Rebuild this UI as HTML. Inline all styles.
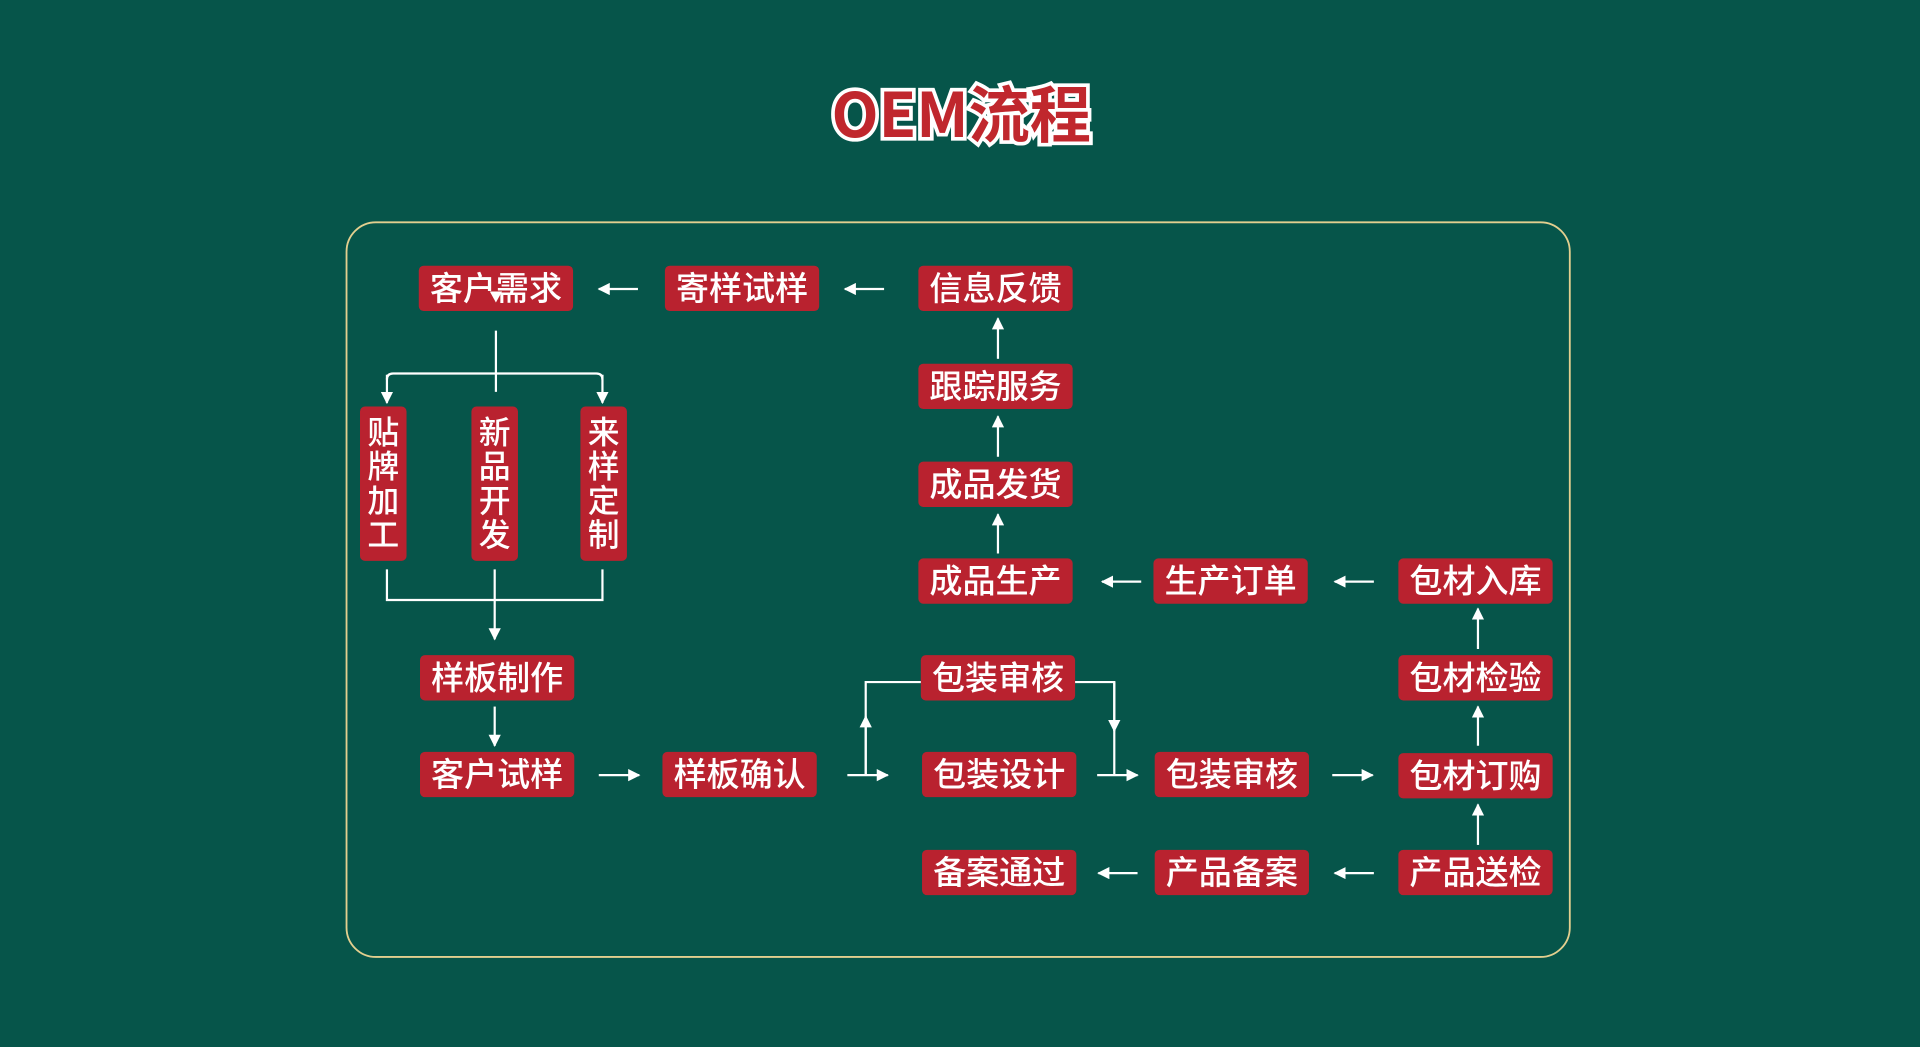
<!DOCTYPE html>
<html><head><meta charset="utf-8"><style>
html,body{margin:0;padding:0;background:#06554a;}
svg{display:block;}
text{font-family:"Noto Sans CJK SC",sans-serif;}
</style></head><body>
<svg width="1920" height="1047" viewBox="0 0 1568 855" xmlns="http://www.w3.org/2000/svg">
<defs>
<marker id="a" viewBox="0 0 10 10" refX="9" refY="5" markerWidth="10" markerHeight="10" markerUnits="userSpaceOnUse" orient="auto"><path d="M0,0 L10,5 L0,10 z" fill="#fff"/></marker>
</defs>
<rect width="1568" height="855" fill="#06554a"/>
<text x="785" y="112" text-anchor="middle" font-size="50" font-weight="bold" fill="#c0272d" stroke="#fff" stroke-width="6" paint-order="stroke">OEM流程</text>
<rect x="283" y="181.5" width="999" height="600" rx="24" fill="none" stroke="#e3cf8f" stroke-width="1.5"/>
<g fill="#b9222f">
<rect x="342" y="217" width="126" height="37" rx="4"/>
<rect x="543" y="217" width="126" height="37" rx="4"/>
<rect x="750" y="217" width="126" height="37" rx="4"/>
<rect x="750" y="297" width="126" height="37" rx="4"/>
<rect x="750" y="377" width="126" height="37" rx="4"/>
<rect x="750" y="456" width="126" height="37" rx="4"/>
<rect x="942" y="456" width="126" height="37" rx="4"/>
<rect x="1142" y="456" width="126" height="37" rx="4"/>
<rect x="1142" y="535" width="126" height="37" rx="4"/>
<rect x="752" y="535" width="126" height="37" rx="4"/>
<rect x="343" y="535" width="126" height="37" rx="4"/>
<rect x="343" y="614" width="126" height="37" rx="4"/>
<rect x="541" y="614" width="126" height="37" rx="4"/>
<rect x="753" y="614" width="126" height="37" rx="4"/>
<rect x="943" y="614" width="126" height="37" rx="4"/>
<rect x="1142" y="615" width="126" height="37" rx="4"/>
<rect x="753" y="694" width="126" height="37" rx="4"/>
<rect x="943" y="694" width="126" height="37" rx="4"/>
<rect x="1142" y="694" width="126" height="37" rx="4"/>
<rect x="294" y="332" width="38" height="126" rx="4"/>
<rect x="385" y="332" width="38" height="126" rx="4"/>
<rect x="474" y="332" width="38" height="126" rx="4"/>
</g>
<g fill="#fff" font-size="27" font-weight="500" text-anchor="middle">
<text x="405" y="245">客户需求</text>
<text x="606" y="245">寄样试样</text>
<text x="813" y="245">信息反馈</text>
<text x="813" y="325">跟踪服务</text>
<text x="813" y="405">成品发货</text>
<text x="813" y="484">成品生产</text>
<text x="1005" y="484">生产订单</text>
<text x="1205" y="484">包材入库</text>
<text x="1205" y="563">包材检验</text>
<text x="815" y="563">包装审核</text>
<text x="406" y="563">样板制作</text>
<text x="406" y="642">客户试样</text>
<text x="604" y="642">样板确认</text>
<text x="816" y="642">包装设计</text>
<text x="1006" y="642">包装审核</text>
<text x="1205" y="643">包材订购</text>
<text x="816" y="722">备案通过</text>
<text x="1006" y="722">产品备案</text>
<text x="1205" y="722">产品送检</text>
<g font-size="26">
<text x="313" y="362">贴</text><text x="313" y="390">牌</text><text x="313" y="418">加</text><text x="313" y="446">工</text>
<text x="404" y="362">新</text><text x="404" y="390">品</text><text x="404" y="418">开</text><text x="404" y="446">发</text>
<text x="493" y="362">来</text><text x="493" y="390">样</text><text x="493" y="418">定</text><text x="493" y="446">制</text>
</g>
</g>
<path d="M400,238 L410,238 L405,247 z" fill="#fff"/>
<g stroke="#fff" stroke-width="1.8" fill="none" marker-end="url(#a)">
<line x1="521" y1="236" x2="489" y2="236"/>
<line x1="722" y1="236" x2="690" y2="236"/>
<line x1="815" y1="293" x2="815" y2="260"/>
<line x1="815" y1="373" x2="815" y2="340"/>
<line x1="815" y1="452" x2="815" y2="420"/>
<line x1="932" y1="475" x2="900" y2="475"/>
<line x1="1122" y1="475" x2="1090" y2="475"/>
<line x1="1207" y1="530" x2="1207" y2="497"/>
<line x1="1207" y1="609" x2="1207" y2="577"/>
<line x1="1207" y1="690" x2="1207" y2="657"/>
<line x1="489" y1="633" x2="522" y2="633"/>
<line x1="692" y1="633" x2="725" y2="633"/>
<line x1="896" y1="633" x2="929" y2="633"/>
<line x1="1088" y1="633" x2="1121" y2="633"/>
<line x1="929" y1="713" x2="897" y2="713"/>
<line x1="1122" y1="713" x2="1090" y2="713"/>
<line x1="404" y1="577" x2="404" y2="609"/>
<line x1="404" y1="465" x2="404" y2="522"/>
<line x1="707" y1="633" x2="707" y2="585"/>
<line x1="910" y1="557" x2="910" y2="597"/>
<line x1="316" y1="306" x2="316" y2="329"/>
<line x1="492" y1="306" x2="492" y2="329"/>
</g>
<g stroke="#fff" stroke-width="1.8" fill="none">
<line x1="405" y1="270" x2="405" y2="320"/>
<path d="M316,310 Q316,305 321,305 L487,305 Q492,305 492,310"/>
<path d="M316,465 L316,490 L492,490 L492,465"/>
<path d="M707,633 L707,557 L752,557"/>
<path d="M878,557 L910,557 L910,633"/>
</g>
</svg>
</body></html>
